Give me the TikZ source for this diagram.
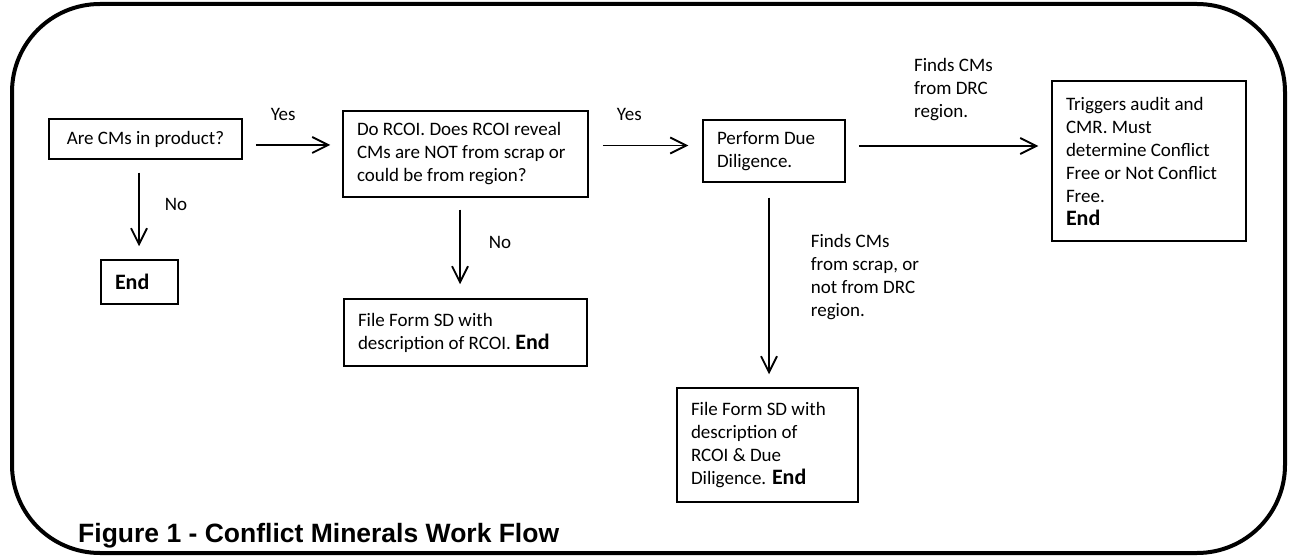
\documentclass[tikz,border=0pt]{standalone}
\usepackage{fontspec}
\setmainfont{Carlito}
\newfontfamily\capfont{Liberation Sans}
\usetikzlibrary{arrows.meta}
\newcommand{\Endword}{{\fontsize{22}{25}\selectfont\bfseries End}}

\tikzset{
  stepbox/.style={draw, line width=1.5pt, inner xsep=14pt, inner ysep=0pt, align=flush left, font=\fontsize{19}{23}\selectfont},
  arr/.style={line width=1.8pt, -{Straight Barb[length=16pt,width=16pt]}},
  lbl/.style={inner sep=0pt, align=flush left, font=\fontsize{19}{23}\selectfont}
}

\begin{document}
\begin{tikzpicture}[x=1pt, y=-1pt]
  \useasboundingbox (0,0) rectangle (1294,556);
  % Rahmen
  \draw[line width=4pt, rounded corners=88pt] (12,4) rectangle (1285,553);

  % Nodos
  \node[stepbox, align=flush center, text width=165pt, minimum height=40pt] (cms) at (145.5,139) {Are CMs in product?};
  \node[stepbox, text width=217pt, minimum height=86pt] (rcoi) at (465.5,154) {Do RCOI. Does RCOI reveal\\CMs are NOT from scrap or\\could be from region?};
  \node[stepbox, text width=114pt, minimum height=62pt] (dd) at (774,151) {Perform Due\\Diligence.};
  \node[stepbox, text width=166pt, minimum height=160pt] (audit) at (1149,161) {Triggers audit and\\CMR. Must\\determine Conflict\\Free or Not Conflict\\Free.\\\Endword};
  \node[stepbox, text width=49pt, minimum height=44pt] (end) at (139.5,282) {\Endword};
  \node[stepbox, text width=215pt, minimum height=67pt] (formrcoi) at (465.5,332.5) {File Form SD with\\description of RCOI. \Endword};
  \node[stepbox, text width=153pt, minimum height=114pt] (formdd) at (767.5,445) {File Form SD with\\description of\\RCOI \& Due\\Diligence. \Endword};

  \draw[arr, shorten <=13pt, shorten >=12pt] ([yshift=-6pt]cms.east) -- ([yshift=-6pt]cms.east -| rcoi.west)
    node[lbl, pos=0.406, yshift=31pt] {Yes};
  \draw[arr, shorten <=14pt, shorten >=14pt] ([yshift=8.5pt]rcoi.east) -- ([yshift=8.5pt]rcoi.east -| dd.west)
    node[lbl, pos=0.357, yshift=31pt] {Yes};
  \draw[arr, shorten <=13pt, shorten >=13pt] ([yshift=5pt]dd.east) -- ([yshift=5pt]dd.east -| audit.west)
    node[lbl, pos=0.3285, anchor=west, yshift=56pt] {Finds CMs\\from DRC\\region.};
  \draw[arr, shorten <=13pt, shorten >=13pt] ([xshift=-6.5pt]cms.south) -- ([xshift=-6.5pt]cms.south |- end.north)
    node[lbl, pos=0.446, xshift=37pt] {No};
  \draw[arr, shorten <=12pt, shorten >=14pt] ([xshift=-5.5pt]rcoi.south) -- ([xshift=-5.5pt]rcoi.south |- formrcoi.north)
    node[lbl, pos=0.441, xshift=40pt] {No};
  \draw[arr, shorten <=15pt, shorten >=13pt] ([xshift=-5pt]dd.south) -- ([xshift=-5pt]dd.south |- formdd.north)
    node[lbl, pos=0.459, anchor=west, xshift=41pt] {Finds CMs\\from scrap, or\\not from DRC\\region.};

  \node[anchor=base west, inner sep=0pt, font=\capfont\bfseries\fontsize{26.5}{30}\selectfont] (caption) at (78,542) {Figure 1 - Conflict Minerals Work Flow};
\end{tikzpicture}
\end{document}
